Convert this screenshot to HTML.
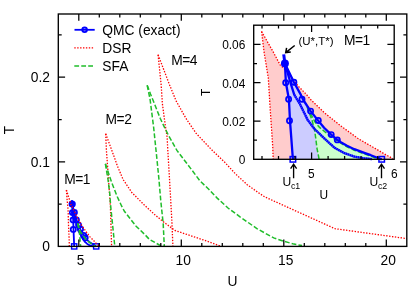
<!DOCTYPE html>
<html><head><meta charset="utf-8"><title>Phase diagram</title>
<style>html,body{margin:0;padding:0;background:#fff}body{width:415px;height:291px;overflow:hidden}</style>
</head><body>
<svg width="415" height="291" viewBox="0 0 415 291" style="display:block;will-change:transform;font-family:'Liberation Sans',sans-serif">
<rect width="415" height="291" fill="#fff"/>
<g>
<polyline points="71.9,200.1 72.2,204.0" fill="none" stroke="#0000ff" stroke-width="1.8" stroke-linejoin="round"/>
<polyline points="72.2,204.0 72.4,212.6 73.2,219.9 73.5,229.4 74.2,246.4" fill="none" stroke="#0000ff" stroke-width="1.8" stroke-linejoin="round"/>
<polyline points="72.2,204.0 73.6,212.6 74.5,218.0 75.9,222.1 77.8,229.0 79.5,232.9 81.4,236.3 83.1,239.1 84.6,241.5 87.0,243.7 89.4,245.2 91.8,246.0 93.8,246.3" fill="none" stroke="#0000ff" stroke-width="1.8" stroke-linejoin="round"/>
<polyline points="72.2,204.0 74.4,212.4 76.2,218.0 76.8,220.2 78.6,225.1 80.4,229.3 81.9,232.4 83.7,235.5 85.2,237.8 86.1,238.8 87.6,240.4 89.4,241.9 92.1,243.7 93.5,244.6 95.2,245.7 96.2,246.4" fill="none" stroke="#0000ff" stroke-width="1.8" stroke-linejoin="round"/>
<circle cx="72.4" cy="212.6" r="2.6" fill="none" stroke="#0000ff" stroke-width="1.7"/>
<circle cx="73.1" cy="219.9" r="2.6" fill="none" stroke="#0000ff" stroke-width="1.7"/>
<circle cx="73.3" cy="229.4" r="2.6" fill="none" stroke="#0000ff" stroke-width="1.7"/>
<circle cx="74.4" cy="212.4" r="2.6" fill="none" stroke="#0000ff" stroke-width="1.7"/>
<circle cx="76.4" cy="219.9" r="2.6" fill="none" stroke="#0000ff" stroke-width="1.7"/>
<circle cx="78.6" cy="225.1" r="2.6" fill="none" stroke="#0000ff" stroke-width="1.7"/>
<circle cx="80.5" cy="229.3" r="2.6" fill="none" stroke="#0000ff" stroke-width="1.7"/>
<circle cx="83.7" cy="235.5" r="2.6" fill="none" stroke="#0000ff" stroke-width="1.7"/>
<circle cx="85.2" cy="237.8" r="2.6" fill="none" stroke="#0000ff" stroke-width="1.7"/>
<circle cx="72.2" cy="204.0" r="3.6" fill="#0000ff"/>
<rect x="71.6" y="243.8" width="5.2" height="5.2" fill="none" stroke="#0000ff" stroke-width="1.4"/>
<rect x="93.6" y="243.8" width="5.2" height="5.2" fill="none" stroke="#0000ff" stroke-width="1.4"/>
<polyline points="105.7,133.8 106.4,150.0 107.5,165.0 109.0,186.7 110.4,206.2 111.6,246.4" fill="none" stroke="#ff0000" stroke-width="1.3" stroke-dasharray="1.4 1.5"/>
<polyline points="105.7,133.8 111.7,150.0 117.4,166.0 123.1,179.5 131.8,192.5 144.3,205.0 154.5,214.4 163.1,221.6 171.8,228.1 174.8,230.4 190.0,235.5 204.5,240.3 221.0,246.2" fill="none" stroke="#ff0000" stroke-width="1.3" stroke-dasharray="1.4 1.5"/>
<polyline points="158.1,54.8 161.2,85.5 162.4,103.8 165.3,125.5 167.1,136.9 167.8,150.0 169.5,178.9 170.7,200.0 172.0,223.9 172.9,246.4" fill="none" stroke="#ff0000" stroke-width="1.3" stroke-dasharray="1.4 1.5"/>
<polyline points="158.1,54.8 169.6,85.0 176.1,100.9 183.4,113.9 187.0,120.0 196.3,133.5 210.6,148.7 225.0,162.5 235.1,173.5 246.9,184.5 258.7,192.9 265.0,197.0 335.0,228.7 406.8,238.6" fill="none" stroke="#ff0000" stroke-width="1.3" stroke-dasharray="1.4 1.5"/>
<polyline points="66.4,190.0 67.1,199.5 68.1,210.5 68.5,224.3 69.2,240.5 69.3,246.4" fill="none" stroke="#ff0000" stroke-width="1.3" stroke-dasharray="1.4 1.5"/>
<polyline points="66.4,190.0 69.4,199.5 71.1,204.9 72.1,206.5 75.6,214.3 77.3,217.4 78.7,220.2 81.9,225.7 85.9,231.4 90.2,237.1 92.1,239.0 94.5,241.5 96.8,244.0 99.0,246.1" fill="none" stroke="#ff0000" stroke-width="1.3" stroke-dasharray="1.4 1.5"/>
<polyline points="105.4,163.8 108.0,179.5 109.8,193.9 110.6,205.5 114.8,246.4" fill="none" stroke="#1fbd2a" stroke-width="1.5" stroke-dasharray="4.8 2.15"/>
<polyline points="105.4,163.8 111.6,182.3 117.3,196.8 121.7,206.2 124.4,211.3 136.1,226.2 145.0,234.7 149.3,239.3 158.9,244.7 163.7,246.4" fill="none" stroke="#1fbd2a" stroke-width="1.5" stroke-dasharray="4.8 2.15"/>
<polyline points="147.2,85.3 150.1,99.5 152.3,116.8 153.6,127.0 156.3,153.0 157.5,164.8 158.9,178.9 160.7,200.0 163.2,223.9 164.3,246.4" fill="none" stroke="#1fbd2a" stroke-width="1.5" stroke-dasharray="4.8 2.15"/>
<polyline points="147.2,85.3 150.5,94.0 154.5,103.8 160.2,118.3 163.9,126.2 168.4,135.2 176.9,150.4 190.4,168.1 200.0,180.9 209.0,189.5 217.2,198.1 228.0,208.0 240.0,216.8 256.9,228.6 273.7,237.9 283.9,241.3 294.0,244.1 302.0,245.6" fill="none" stroke="#1fbd2a" stroke-width="1.5" stroke-dasharray="4.8 2.15"/>
<polyline points="77.7,223.4 78.9,229.0 79.5,233.3 79.9,237.6 80.1,241.4 80.6,245.6 80.6,246.4" fill="none" stroke="#1fbd2a" stroke-width="1.5" stroke-dasharray="4.8 2.15"/>
<polyline points="77.7,223.4 79.0,227.9 79.6,229.9 80.7,232.2 82.2,234.3 83.4,236.1 84.8,237.8 86.1,239.3 87.6,240.9 89.4,242.4 92.1,244.1 93.5,245.0 95.3,246.2 96.0,246.4" fill="none" stroke="#1fbd2a" stroke-width="1.5" stroke-dasharray="4.8 2.15"/>
</g>
<rect x="58.3" y="14.0" width="348.5" height="232.4" fill="none" stroke="#000" stroke-width="1.35"/>
<path d="M78.8 246.4 v-6.8 M78.8 14.0 v6.8 M99.3 246.4 v-3.4 M99.3 14.0 v3.4 M119.8 246.4 v-3.4 M119.8 14.0 v3.4 M140.3 246.4 v-3.4 M140.3 14.0 v3.4 M160.8 246.4 v-3.4 M160.8 14.0 v3.4 M181.3 246.4 v-6.8 M181.3 14.0 v6.8 M201.8 246.4 v-3.4 M201.8 14.0 v3.4 M222.3 246.4 v-3.4 M222.3 14.0 v3.4 M242.8 246.4 v-3.4 M242.8 14.0 v3.4 M263.3 246.4 v-3.4 M263.3 14.0 v3.4 M283.8 246.4 v-6.8 M283.8 14.0 v6.8 M304.3 246.4 v-3.4 M304.3 14.0 v3.4 M324.8 246.4 v-3.4 M324.8 14.0 v3.4 M345.3 246.4 v-3.4 M345.3 14.0 v3.4 M365.8 246.4 v-3.4 M365.8 14.0 v3.4 M386.3 246.4 v-6.8 M386.3 14.0 v6.8 M58.3 204.1 h3.4 M406.8 204.1 h-3.4 M58.3 161.8 h6.8 M406.8 161.8 h-6.8 M58.3 119.5 h3.4 M406.8 119.5 h-3.4 M58.3 77.2 h6.8 M406.8 77.2 h-6.8 M58.3 34.9 h3.4 M406.8 34.9 h-3.4" stroke="#000" stroke-width="1.25"/>
<text x="80.7" y="264.8" font-size="13.8" text-anchor="middle">5</text>
<text x="183.2" y="264.8" font-size="13.8" text-anchor="middle">10</text>
<text x="285.7" y="264.8" font-size="13.8" text-anchor="middle">15</text>
<text x="388.2" y="264.8" font-size="13.8" text-anchor="middle">20</text>
<text x="49.9" y="251.3" font-size="13.8" text-anchor="end">0</text>
<text x="49.9" y="166.7" font-size="13.8" text-anchor="end">0.1</text>
<text x="49.9" y="82.1" font-size="13.8" text-anchor="end">0.2</text>
<text x="232.6" y="286" font-size="13.8" text-anchor="middle">U</text>
<text transform="translate(14.3,130) rotate(-90)" font-size="13.8" text-anchor="middle">T</text>
<text x="64.2" y="183.8" font-size="13.8" letter-spacing="-0.5">M=1</text>
<text x="105.6" y="124" font-size="13.8" letter-spacing="-0.5">M=2</text>
<text x="171.3" y="64.5" font-size="13.8" letter-spacing="-0.5">M=4</text>
<line x1="74.5" y1="29.8" x2="94.7" y2="29.8" stroke="#0000ff" stroke-width="1.8"/>
<circle cx="84.6" cy="29.8" r="2.3" fill="none" stroke="#0000ff" stroke-width="1.9"/>
<line x1="74.3" y1="47.95" x2="93.6" y2="47.95" fill="none" stroke="#ff0000" stroke-width="1.3" stroke-dasharray="1.4 1.5"/>
<line x1="74.3" y1="66.05" x2="94.7" y2="66.05" fill="none" stroke="#1fbd2a" stroke-width="1.5" stroke-dasharray="4.8 2.15"/>
<text x="102.3" y="35" font-size="13.8">QMC (exact)</text>
<text x="102.3" y="53" font-size="13.8">DSR</text>
<text x="102.3" y="71" font-size="13.8">SFA</text>
<rect x="253.7" y="25.2" width="140.5" height="134.1" fill="#fff"/>
<polygon points="261.6,31.5 264.2,53.0 268.3,77.9 270.2,109.3 272.7,146.0 273.2,159.3 393.0,158.7 384.3,153.9 374.8,148.2 365.0,142.6 357.7,138.3 340.0,125.3 324.1,112.5 311.1,100.0 305.7,93.7 298.5,86.5 284.7,68.9 280.4,65.4 273.8,53.0 261.6,31.5" fill="#ffcccc"/>
<polygon points="284.9,63.4 285.9,82.8 288.9,99.3 290.0,120.8 292.9,159.3 381.7,159.3 377.5,157.8 370.8,155.2 365.0,153.1 354.3,149.2 347.0,145.8 340.8,142.2 337.3,139.8 331.2,134.6 324.1,127.7 318.2,120.6 310.6,111.1 303.3,100.0 300.9,94.9 293.9,82.2 284.9,63.4" fill="#ccccff"/>
<polygon points="307.2,107.2 312.0,120.0 314.5,129.6 315.9,139.3 316.9,148.0 318.8,157.5 319.0,159.3 381.0,159.3 378.0,158.8 370.8,156.2 365.0,154.1 354.3,150.2 347.0,146.8 340.8,143.2 335.7,139.9 329.9,135.9 325.1,132.0 319.3,127.2 314.9,121.9 312.5,117.3 307.2,107.2" fill="#ccffcc"/>
<polyline points="261.6,31.5 264.2,53.0 268.3,77.9 270.2,109.3 272.7,146.0 273.2,159.3" fill="none" stroke="#ff0000" stroke-width="1.3" stroke-dasharray="1.4 1.5"/>
<polyline points="261.6,31.5 273.8,53.0 280.4,65.4 284.7,68.9 298.5,86.5 305.7,93.7 311.1,100.0 324.1,112.5 340.0,125.3 357.7,138.3 365.0,142.6 374.8,148.2 384.3,153.9 393.0,158.7" fill="none" stroke="#ff0000" stroke-width="1.3" stroke-dasharray="1.4 1.5"/>
<polyline points="307.2,107.2 312.0,120.0 314.5,129.6 315.9,139.3 316.9,148.0 318.8,157.5 319.0,159.3" fill="none" stroke="#1fbd2a" stroke-width="1.5" stroke-dasharray="4.8 2.15"/>
<polyline points="307.2,107.2 312.5,117.3 314.9,121.9 319.3,127.2 325.1,132.0 329.9,135.9 335.7,139.9 340.8,143.2 347.0,146.8 354.3,150.2 365.0,154.1 370.8,156.2 378.0,158.8 381.0,159.3" fill="none" stroke="#1fbd2a" stroke-width="1.5" stroke-dasharray="4.8 2.15"/>
<polyline points="284.9,63.4 285.9,82.8 288.9,99.3 290.0,120.8 292.9,159.3" fill="none" stroke="#0000ff" stroke-width="2.3" stroke-linejoin="round"/>
<polyline points="284.9,63.4 293.9,82.2 300.9,94.9 303.3,100.0 310.6,111.1 318.2,120.6 324.1,127.7 331.2,134.6 337.3,139.8 340.8,142.2 347.0,145.8 354.3,149.2 365.0,153.1 370.8,155.2 377.5,157.8 381.7,159.3" fill="none" stroke="#0000ff" stroke-width="2.3" stroke-linejoin="round"/>
<polyline points="284.9,63.4 290.5,82.8 294.3,94.9" fill="none" stroke="#0000ff" stroke-width="2.3" stroke-linejoin="round"/>
<polyline points="294.3,94.9 300.0,104.2 307.7,120.0 314.3,128.7 322.2,136.4 328.9,142.7 335.0,148.1 344.6,153.2 354.3,156.6 363.9,158.3 372.0,159.1" fill="none" stroke="#0000ff" stroke-width="2.3" stroke-linejoin="round" stroke-opacity="0.6"/>
<polyline points="294.3,94.9 300.0,104.2 307.7,120.0 314.3,128.7 322.2,136.4 328.9,142.7 335.0,148.1 344.6,153.2 354.3,156.6 363.9,158.3 372.0,159.1" fill="none" stroke="#0000ff" stroke-width="2.3" stroke-linejoin="round" stroke-dasharray="1.5 0.6"/>
<polyline points="283.7,54.4 284.9,63.4" fill="none" stroke="#0000ff" stroke-width="3" stroke-linecap="butt"/>
<circle cx="285.7" cy="82.8" r="2.6" fill="none" stroke="#0000ff" stroke-width="1.7"/>
<circle cx="288.6" cy="99.3" r="2.6" fill="none" stroke="#0000ff" stroke-width="1.7"/>
<circle cx="289.5" cy="120.8" r="2.6" fill="none" stroke="#0000ff" stroke-width="1.7"/>
<circle cx="293.9" cy="82.3" r="2.6" fill="none" stroke="#0000ff" stroke-width="1.7"/>
<circle cx="302.0" cy="99.3" r="2.6" fill="none" stroke="#0000ff" stroke-width="1.7"/>
<circle cx="310.6" cy="111.1" r="2.6" fill="none" stroke="#0000ff" stroke-width="1.7"/>
<circle cx="318.3" cy="120.5" r="2.6" fill="none" stroke="#0000ff" stroke-width="1.7"/>
<circle cx="331.2" cy="134.6" r="2.6" fill="none" stroke="#0000ff" stroke-width="1.7"/>
<circle cx="337.3" cy="139.9" r="2.6" fill="none" stroke="#0000ff" stroke-width="1.7"/>
<circle cx="284.9" cy="63.4" r="4" fill="#0000ff"/>
<rect x="290.15" y="156.55" width="5.5" height="5.5" fill="none" stroke="#0000ff" stroke-width="1.5"/>
<rect x="378.95" y="156.55" width="5.5" height="5.5" fill="none" stroke="#0000ff" stroke-width="1.5"/>
<rect x="253.7" y="25.2" width="140.5" height="134.1" fill="none" stroke="#000" stroke-width="1.35"/>
<path d="M262.0 159.3 v-3.3 M262.0 25.2 v3.3 M278.5 159.3 v-3.3 M278.5 25.2 v3.3 M295.0 159.3 v-3.3 M295.0 25.2 v3.3 M311.6 159.3 v-6.8 M311.6 25.2 v6.8 M328.1 159.3 v-3.3 M328.1 25.2 v3.3 M344.6 159.3 v-3.3 M344.6 25.2 v3.3 M361.1 159.3 v-3.3 M361.1 25.2 v3.3 M377.7 159.3 v-3.3 M377.7 25.2 v3.3 M253.7 140.1 h3.3 M394.2 140.1 h-3.3 M253.7 121.0 h6.8 M394.2 121.0 h-6.8 M253.7 101.8 h3.3 M394.2 101.8 h-3.3 M253.7 82.7 h6.8 M394.2 82.7 h-6.8 M253.7 63.5 h3.3 M394.2 63.5 h-3.3 M253.7 44.4 h6.8 M394.2 44.4 h-6.8" stroke="#000" stroke-width="1.25"/>
<text x="245.3" y="164.1" font-size="11.9" text-anchor="end">0</text>
<text x="245.3" y="125.8" font-size="11.9" text-anchor="end">0.02</text>
<text x="245.3" y="87.5" font-size="11.9" text-anchor="end">0.04</text>
<text x="245.3" y="49.2" font-size="11.9" text-anchor="end">0.06</text>
<text x="311.3" y="177.7" font-size="11.9" text-anchor="middle">5</text>
<text x="394.2" y="177.7" font-size="11.9" text-anchor="middle">6</text>
<text x="323.9" y="198.5" font-size="11.9" text-anchor="middle">U</text>
<text transform="translate(209.5,92.4) rotate(-90)" font-size="11.9" text-anchor="middle">T</text>
<text x="298.4" y="45.3" font-size="11.5">(U*,T*)</text>
<text x="343.9" y="45.1" font-size="13.8" letter-spacing="-0.5">M=1</text>
<path d="M294.7 45.5 L285.7 52.6 M290.8 52.1 L285.7 52.6 L286.6 47.8" fill="none" stroke="#000" stroke-width="1.5"/>
<path d="M293.6 178.2 V164.3 M290.6 168.6 L293.6 164.1 L296.6 168.6" fill="none" stroke="#000" stroke-width="1.35"/>
<text x="282.6" y="186" font-size="12.1">U<tspan font-size="8.8" dy="3.4" dx="-0.4">c1</tspan></text>
<path d="M381.5 178.2 V164.3 M378.5 168.6 L381.5 164.1 L384.5 168.6" fill="none" stroke="#000" stroke-width="1.35"/>
<text x="369.6" y="186" font-size="12.1">U<tspan font-size="8.8" dy="3.4" dx="-0.4">c2</tspan></text>
</svg>
</body></html>
